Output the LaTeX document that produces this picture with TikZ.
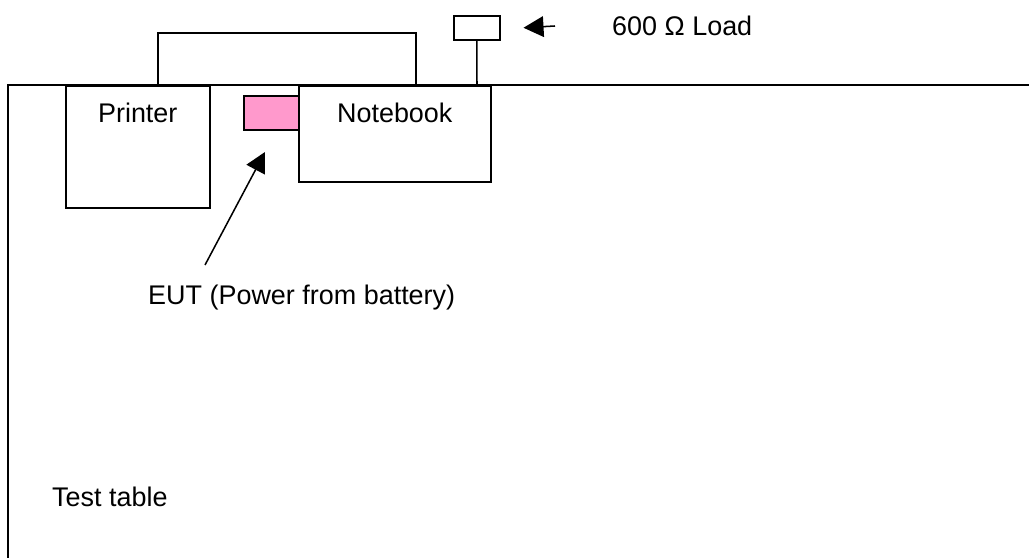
\documentclass[tikz,border=0pt]{standalone}
\usepackage{fontspec}
\setmainfont{Liberation Sans}
\usetikzlibrary{arrows.meta,positioning}

\definecolor{eutpink}{HTML}{FF99CC}

\tikzset{
  box/.style={draw, line width=1.3pt, inner sep=0pt, anchor=north west},
  wire/.style={line width=1.3pt},
  pointer/.style={line width=1.3pt, -{Triangle[length=0.6cm,width=0.62cm]}},
  lbl/.style={font=\fontsize{23}{27}\selectfont, inner sep=0pt}
}

\begin{document}
\begin{tikzpicture}
  \useasboundingbox (0,0) rectangle (30.87,16.74);

  % test table
  \draw[wire] (30.87,14.19) -- (0.24,14.19) -- (0.24,0);
  \node[lbl, anchor=west] (tabletxt) at (1.56,1.83) {Test table};

  % printer and notebook on the table
  \node[box, minimum width=4.32cm, minimum height=3.66cm] (printer) at (1.95,14.19) {};
  \node[lbl] (printertxt) at ([yshift=-0.84cm]printer.north) {Printer};
  \node[box, minimum width=5.76cm, minimum height=2.88cm] (notebook) at (8.94,14.19) {};
  \node[lbl] (notebooktxt) at ([yshift=-0.84cm]notebook.north) {Notebook};

  % EUT
  \node[box, fill=eutpink, minimum width=1.65cm, minimum height=1.02cm] (eut) at (7.29,13.89) {};

  % cable printer -- notebook
  \coordinate (cabA) at (4.74,14.19);
  \coordinate (cabB) at (12.48,14.19);
  \draw[wire] (cabA) |- (8.6,15.75) -| (cabB);

  % 600 ohm load
  \node[box, minimum width=1.38cm, minimum height=0.72cm] (load) at (13.59,16.29) {};
  \coordinate (loadfoot) at (14.31,14.19);
  \draw[wire] (load.south) -- (loadfoot);
  \node[lbl, anchor=west] (loadtxt) at (18.36,15.96) {600 Ω Load};
  \coordinate (loadarr) at (16.65,15.96);
  \draw[pointer] (loadarr) -- ([xshift=0.69cm]load.east);

  % EUT label
  \node[lbl, anchor=west] (euttxt) at (4.44,7.8) {EUT (Power from battery)};
  \coordinate (eutarr) at (6.15,8.79);
  \draw[pointer] (eutarr) -- (7.95,12.18);
\end{tikzpicture}
\end{document}
